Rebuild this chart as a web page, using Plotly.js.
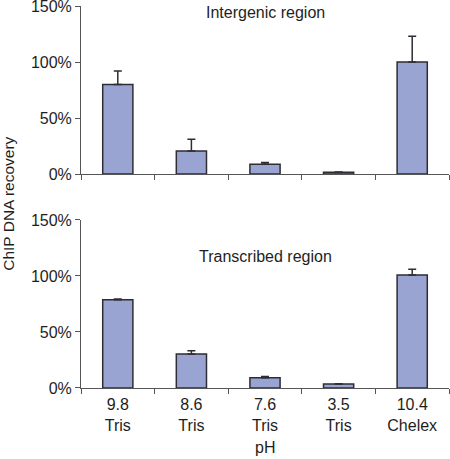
<!DOCTYPE html>
<html>
<head>
<meta charset="utf-8">
<script src="https://cdn.plot.ly/plotly-3.0.1.min.js"></script>
<style>html,body{margin:0;padding:0;background:#fff;}#chart{width:450px;height:459px;}</style>
</head>
<body>
<div id="chart"></div>
<script>
const categories = ["9.8<br>Tris", "8.6<br>Tris", "7.6<br>Tris", "3.5<br>Tris", "10.4<br>Chelex"];
const intergenicValues = [80, 20.5, 8.7, 1.5, 100];
const intergenicErrors = [12, 10.5, 1.5, 0.4, 23];
const transcribedValues = [78.7, 30.3, 9.2, 3.5, 101];
const transcribedErrors = [0.8, 3, 1.1, 0.3, 5];
const yTickValues = [0, 50, 100, 150];
const yTickLabels = ["0%", "50%", "100%", "150%"];
const panelTitles = ["Intergenic region", "Transcribed region"];
const xTitle = "pH";
const yTitle = "ChIP DNA recovery";

const barColor = "#9aa4d3";
const edgeColor = "#2d2d33";
const textColor = "#1e1e1e";
const axisColor = "#555555";
const font = {family: "Liberation Sans, Arial, sans-serif", size: 16, color: textColor};

function barTrace(vals, errs, xa, ya) {
  return {
    type: "bar", x: categories, y: vals, xaxis: xa, yaxis: ya,
    width: 0.41,
    marker: {color: barColor, line: {color: edgeColor, width: 1.5}},
    error_y: {type: "data", symmetric: false, array: errs, arrayminus: errs.map(() => 0),
              color: edgeColor, thickness: 1.5, width: 4},
    hoverinfo: "skip", showlegend: false
  };
}

const yAxisCommon = {
  range: [0, 150], tickvals: yTickValues, ticktext: yTickLabels,
  showgrid: false, zeroline: false, showline: true, linecolor: axisColor, linewidth: 1,
  ticks: "outside", ticklen: 5, tickcolor: axisColor, tickfont: font,
  ticklabeloverflow: "allow", fixedrange: true
};
const xAxisCommon = {
  type: "category", range: [-0.5, 4.5], tickson: "boundaries",
  showgrid: false, zeroline: false, showline: true, linecolor: axisColor, linewidth: 1,
  ticks: "outside", ticklen: 5, tickcolor: axisColor, tickfont: font,
  ticklabelstandoff: 2, fixedrange: true
};

const data = [
  barTrace(intergenicValues, intergenicErrors, "x2", "y2"),
  barTrace(transcribedValues, transcribedErrors, "x", "y")
];

const layout = {
  width: 450, height: 459,
  margin: {l: 81, r: 1, t: 6, b: 71},
  paper_bgcolor: "#ffffff", plot_bgcolor: "#ffffff",
  font: font,
  xaxis: {...xAxisCommon, anchor: "y"},
  yaxis: {...yAxisCommon, domain: [0, 0.4398], anchor: "x"},
  xaxis2: {...xAxisCommon, anchor: "y2", showticklabels: false},
  yaxis2: {...yAxisCommon, domain: [0.5602, 1], anchor: "x2"},
  annotations: [
    {xref: "x2", yref: "y2", x: 2, y: 144.6, text: panelTitles[0], showarrow: false,
     font: font, xanchor: "center", yanchor: "middle"},
    {xref: "x", yref: "y", x: 2, y: 117, text: panelTitles[1], showarrow: false,
     font: font, xanchor: "center", yanchor: "middle"},
    {xref: "x", yref: "paper", x: 2, y: -0.157, text: xTitle, showarrow: false,
     font: font, xanchor: "center", yanchor: "middle"},
    {xref: "paper", yref: "paper", x: -0.196, y: 0.482, text: yTitle, textangle: -90,
     showarrow: false, font: {...font, size: 15.5}, xanchor: "center", yanchor: "middle"}
  ]
};

Plotly.newPlot("chart", data, layout, {staticPlot: true, displayModeBar: false});
</script>
</body>
</html>
